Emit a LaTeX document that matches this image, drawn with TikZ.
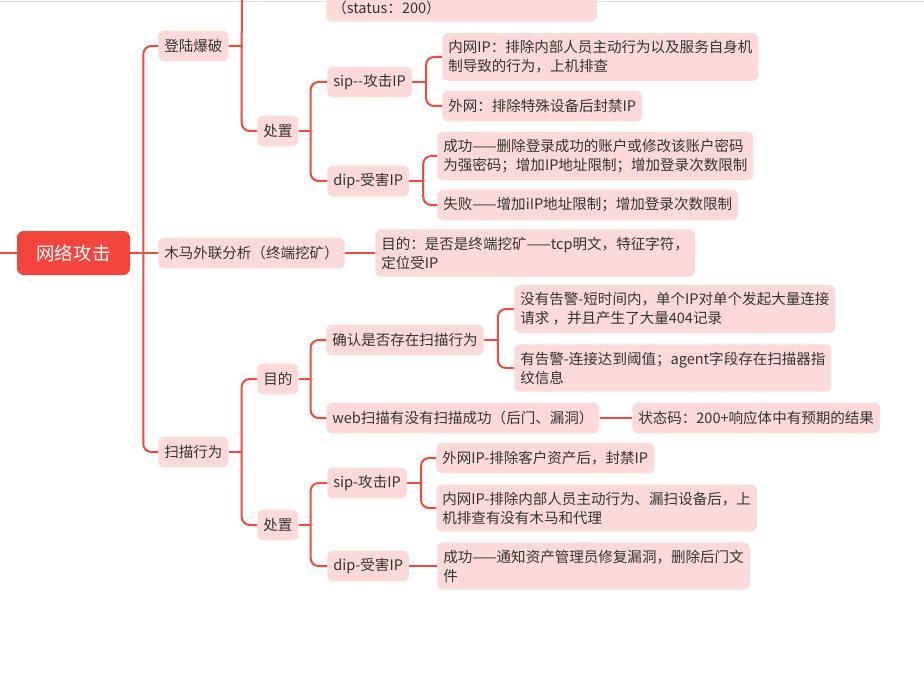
\documentclass[tikz,border=0pt]{standalone}
\usepackage{fontspec}
\setmainfont{Noto Sans CJK SC}
\usepackage{tikz}
\definecolor{linered}{HTML}{EF4B43}
\definecolor{rootred}{HTML}{F4453D}
\definecolor{boxpink}{HTML}{FCDAD9}
\definecolor{inktext}{HTML}{333333}
\tikzset{every node/.style={font=\fontsize{10.9pt}{14.3pt}\selectfont}}

\begin{document}
\begin{tikzpicture}[x=0.75pt,y=-0.75pt]
 \tikzstyle{box} = [fill=boxpink,text=inktext,rounded corners=4.5pt,inner xsep=4.5pt,inner ysep=5.5pt,minimum height=23pt,align=left,anchor=west]
 \tikzstyle{rootbox} = [fill=rootred,text=white,rounded corners=5pt,minimum width=84.75pt,minimum height=33pt,font=\fontsize{13.9pt}{16pt}\selectfont]
 \tikzstyle{link} = [draw=linered,line width=1.5pt]
 \tikzstyle{branch} = [link,rounded corners=6pt]
 \useasboundingbox (0,0) rectangle (924,681);
 \fill[white] (0,0) rectangle (924,681);
 \draw[gray!25,line width=0.8pt] (0,1.5) -- (924,1.5);

% Root
 \node[rootbox] (wlgj) at (73.5,253) {网络攻击};
 \coordinate (wlgjin) at (0,253);

% Level 1
 \node[box] (dlbp) at (158,46) {登陆爆破};
 \node[box] (mmwl) at (158,253) {木马外联分析（终端挖矿）};
 \node[box] (smxw) at (158,452) {扫描行为};

% 登陆爆破
 \node[box,anchor=south west,text height=30pt,text width=194pt] (dlst) at (326,22) {（status：200）};
 \coordinate (dlup) at (242,-10);
 \node[box] (dlcz) at (257,131) {处置};
 \node[box] (dlsip) at (327,82) {sip-{}-攻击IP};
 \node[box] (dldip) at (327,181) {dip-受害IP};
 \node[box] (dlnw) at (442,57) {内网IP：排除内部人员主动行为以及服务自身机\\制导致的行为，上机排查};
 \node[box] (dlww) at (442,106) {外网：排除特殊设备后封禁IP};
 \node[box] (dlcg) at (437,156) {成功——删除登录成功的账户或修改该账户密码\\为强密码；增加IP地址限制；增加登录次数限制};
 \node[box] (dlsb) at (437,205) {失败——增加iIP地址限制；增加登录次数限制};

% 木马外联分析
 \node[box] (mmmd) at (375,253) {目的：是否是终端挖矿——tcp明文，特征字符，\\定位受IP};

% 扫描行为
 \node[box] (smmd) at (257,379) {目的};
 \node[box] (smcz) at (257,525) {处置};
 \node[box] (smqr) at (326,340) {确认是否存在扫描行为};
 \node[box] (smweb) at (326,418) {web扫描有没有扫描成功（后门、漏洞）};
 \node[box] (smwgj) at (514,309) {没有告警-短时间内，单个IP对单个发起大量连接\\请求 ，并且产生了大量404记录};
 \node[box] (smygj) at (514,368) {有告警-连接达到阈值；agent字段存在扫描器指\\纹信息};
 \node[box] (smztm) at (632,418) {状态码：200+响应体中有预期的结果};
 \node[box] (smsip) at (327,483) {sip-攻击IP};
 \node[box] (smdip) at (327,566) {dip-受害IP};
 \node[box] (smww) at (436,458) {外网IP-排除客户资产后，封禁IP};
 \node[box] (smnw) at (436,508) {内网IP-排除内部人员主动行为、漏扫设备后，上\\机排查有没有木马和代理};
 \node[box] (smcg) at (437,566) {成功——通知资产管理员修复漏洞，删除后门文\\件};

% Connectors
 \draw[link] (wlgjin) -- (wlgj.west);
 \draw[link] (wlgj.east) -- ++(13,0) coordinate (wlgjb) -- (mmwl.west);
 \foreach \c in {dlbp,smxw} \draw[branch] (wlgjb) |- (\c.west);

 \draw[link] (dlbp.east) -- ++(13,0) coordinate (dlbpb) -- (dlup);
 \draw[branch] (dlbpb) |- (dlcz.west);
 \draw[link] (dlcz.east) -- ++(12,0) coordinate (dlczb);
 \foreach \c in {dlsip,dldip} \draw[branch] (dlczb) |- (\c.west);
 \draw[link] (dlsip.east) -- ++(14,0) coordinate (dlsipb);
 \foreach \c in {dlnw,dlww} \draw[branch] (dlsipb) |- (\c.west);
 \draw[link] (dldip.east) -- ++(14,0) coordinate (dldipb);
 \foreach \c in {dlcg,dlsb} \draw[branch] (dldipb) |- (\c.west);

 \draw[link] (mmwl.east) -- (mmmd.west);

 \draw[link] (smxw.east) -- ++(13,0) coordinate (smxwb);
 \foreach \c in {smmd,smcz} \draw[branch] (smxwb) |- (\c.west);
 \draw[link] (smmd.east) -- ++(12,0) coordinate (smmdb);
 \foreach \c in {smqr,smweb} \draw[branch] (smmdb) |- (\c.west);
 \draw[link] (smqr.east) -- ++(14,0) coordinate (smqrb);
 \foreach \c in {smwgj,smygj} \draw[branch] (smqrb) |- (\c.west);
 \draw[link] (smweb.east) -- (smztm.west);
 \draw[link] (smcz.east) -- ++(12,0) coordinate (smczb);
 \foreach \c in {smsip,smdip} \draw[branch] (smczb) |- (\c.west);
 \draw[link] (smsip.east) -- ++(14,0) coordinate (smsipb);
 \foreach \c in {smww,smnw} \draw[branch] (smsipb) |- (\c.west);
 \draw[link] (smdip.east) -- (smcg.west);
\end{tikzpicture}
\end{document}
